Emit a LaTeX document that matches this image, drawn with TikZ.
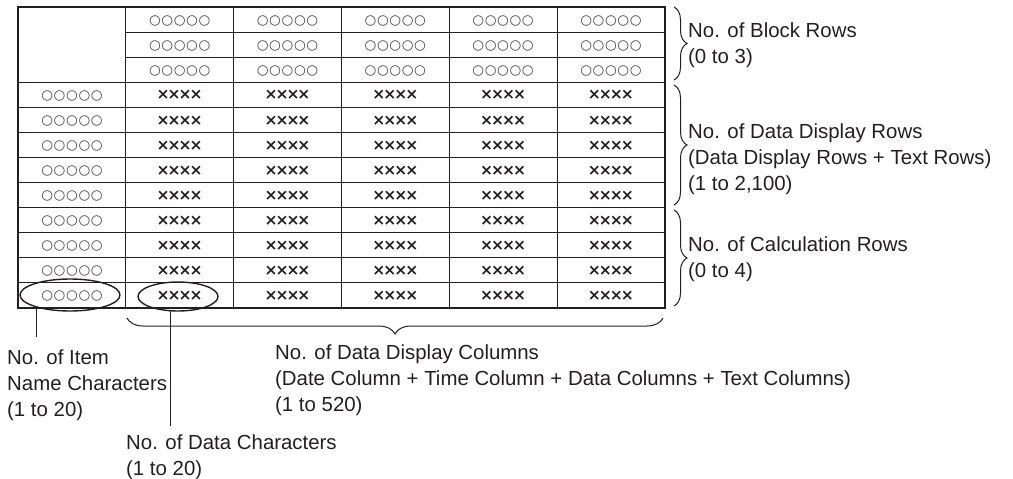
\documentclass[tikz,border=0pt]{standalone}
\usepackage{fontspec}
\setmainfont{Liberation Sans}
\newfontfamily\symfont{DejaVu Sans}
\usetikzlibrary{shapes.geometric,decorations.pathreplacing}
\definecolor{ink}{HTML}{231F20}
\newcommand\fivecirc{○\kern0.6pt○\kern0.6pt○\kern0.6pt○\kern0.6pt○}
\newcommand\fourcross{×\kern-2pt×\kern-2pt×\kern-2pt×}
\begin{document}
\begin{tikzpicture}[x=1pt,y=-1pt,
  gridline/.style={draw=ink, line width=0.9pt},
  frame/.style={draw=ink, line width=2pt},
  circ/.style={font=\symfont\fontsize{13.5}{13.5}\selectfont, text=ink!85, inner sep=0pt},
  cross/.style={font=\symfont\bfseries\fontsize{15.5}{15.5}\selectfont, text=ink, inner sep=0pt},
  lbl/.style={font=\fontsize{20.4}{25.8}\selectfont, align=left, text=ink, inner sep=0pt, anchor=west},
  ring/.style={ellipse, draw=ink, line width=1.4pt, inner sep=0pt},
  lead/.style={draw=ink, line width=1pt},
  bracel/.style={draw=ink, line width=1pt, decorate, decoration={brace, amplitude=#1}},
]
\useasboundingbox (0,0) rectangle (1013,479);
% grid
\foreach \r in {1,2} \draw[gridline] (126,{7+25.08*\r}) -- (665,{7+25.08*\r});
\foreach \r in {3,...,11} \draw[gridline] (18,{7+25.08*\r}) -- (665,{7+25.08*\r});
\foreach \c in {1,...,5} \draw[gridline] ({18+107.8*\c},7) -- ({18+107.8*\c},308);
\draw[frame] (18,7) rectangle (665,308);
% header cells
\foreach \c in {1,...,5} \foreach \r in {0,1,2}
  \node[circ] (h-\r-\c) at ({18+107.8*(\c+0.5)},{8+25.08*(\r+0.5)}) {\fivecirc};
% item name column and data cells
\foreach \r in {3,...,11} {
  \node[circ] (n-\r) at (72,{8+25.08*(\r+0.5)}) {\fivecirc};
  \foreach \c in {1,...,5}
    \node[cross] (d-\r-\c) at ({18+107.8*(\c+0.5)},{7.5+25.08*(\r+0.5)}) {\fourcross};
}
% ellipses
\node[ring, minimum width=100pt, minimum height=32pt] (e1) at (70,295) {};
\node[ring, minimum width=80pt, minimum height=29pt] (e2) at (178,296.5) {};
% labels
\node[lbl] (lb) at (688,45) {No. of Block Rows\\(0 to 3)};
\node[lbl] (ld) at (688,159) {No. of Data Display Rows\\(Data Display Rows + Text Rows)\\(1 to 2,100)};
\node[lbl] (lc) at (688,259.5) {No. of Calculation Rows\\(0 to 4)};
\node[lbl] (lcol) at (275,380) {No. of Data Display Columns\\(Date Column + Time Column + Data Columns + Text Columns)\\(1 to 520)};
\node[lbl] (li) at (7,385) {No. of Item\\Name Characters\\(1 to 20)};
\node[lbl] (lch) at (126,457) {No. of Data Characters\\(1 to 20)};
% leader lines
\coordinate (t1) at (38,337);
\coordinate (t2) at (171,426);
\draw[lead] (e1.201) -- (e1.201 |- t1);
\draw[lead] (e2.244) -- (e2.244 |- t2);
% braces
\coordinate (b1s) at (674,7);   \coordinate (b1e) at (674,80);
\coordinate (b2s) at (674,85);  \coordinate (b2e) at (674,205);
\coordinate (b3s) at (674,210); \coordinate (b3e) at (674,306);
\coordinate (b4s) at (663,318); \coordinate (b4e) at (127,318);
\draw[bracel=13pt] (b1s) -- (b1e);
\draw[bracel=13pt] (b2s) -- (b2e);
\draw[bracel=13pt] (b3s) -- (b3e);
\draw[bracel=16pt] (b4s) -- (b4e);
\end{tikzpicture}
\end{document}
